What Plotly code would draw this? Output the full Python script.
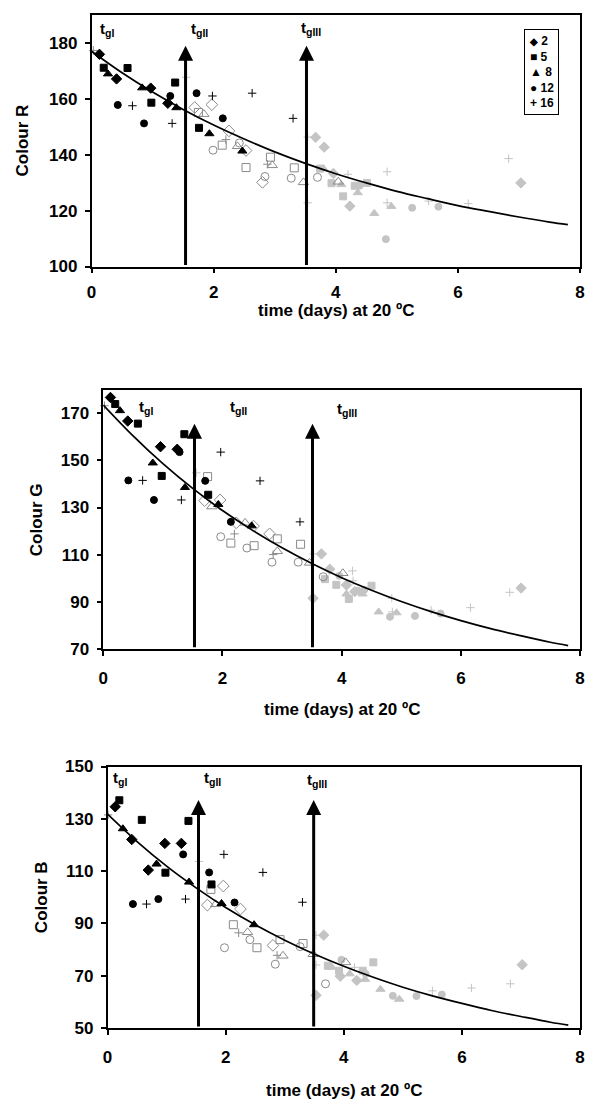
import plotly.graph_objects as go

# ---- storage temperatures (ºC) and their marker symbols ----
TEMPS = [2, 5, 8, 12, 16]
SYM_FILLED = {2: "diamond", 5: "square", 8: "triangle-up", 12: "circle", 16: "cross-thin"}
SYM_OPEN = {2: "diamond-open", 5: "square-open", 8: "triangle-up-open", 12: "circle-open", 16: "cross-thin"}

# ---- Colour R: (temperature, time at 20 ºC in days, value) ----
R_PHASE1 = [
    (2, 0.13, 175.9), (2, 0.41, 167.1), (2, 0.97, 163.8), (2, 1.25, 158.4),
    (5, 0.20, 171.1), (5, 0.59, 171.0), (5, 0.98, 158.6), (5, 1.37, 165.8), (5, 1.76, 149.6),
    (8, 0.27, 168.9), (8, 0.83, 163.9), (8, 1.39, 156.8), (8, 1.93, 147.5), (8, 2.47, 141.3),
    (12, 0.43, 157.8), (12, 0.86, 151.2), (12, 1.29, 161.0), (12, 1.72, 162.0), (12, 2.15, 153.0),
    (16, 0.67, 157.5), (16, 1.32, 151.2), (16, 1.98, 161.0), (16, 2.63, 162.0), (16, 3.30, 153.0),
]
R_PHASE2 = [
    (16, 0.03, 177.3),
    (2, 1.69, 156.9), (2, 1.97, 157.9), (2, 2.25, 148.5), (2, 2.53, 141.5), (2, 2.80, 130.1),
    (5, 1.75, 155.1), (5, 2.14, 143.4), (5, 2.53, 135.4), (5, 2.93, 139.1), (5, 3.32, 135.3),
    (8, 1.84, 154.5), (8, 2.39, 143.0), (8, 2.96, 136.2), (8, 3.47, 130.1), (8, 4.04, 130.3),
    (12, 1.99, 141.6), (12, 2.42, 144.2), (12, 2.84, 132.2), (12, 3.27, 131.6), (12, 3.70, 131.9),
    (16, 2.20, 145.4), (16, 2.88, 136.6),
]
R_PHASE3 = [
    (16, 1.55, 167.7), (16, 3.54, 146.3), (16, 3.54, 122.8),
    (2, 3.67, 146.2), (2, 3.81, 142.7), (2, 3.96, 133.3), (2, 4.23, 121.6), (2, 7.03, 129.9),
    (5, 3.74, 135.0), (5, 3.93, 129.8), (5, 4.12, 125.1), (5, 4.31, 128.9), (5, 4.51, 129.9),
    (8, 3.80, 135.0), (8, 4.09, 129.3), (8, 4.36, 126.4), (8, 4.63, 119.0), (8, 4.91, 121.5),
    (12, 4.39, 128.9), (12, 4.82, 109.8), (12, 5.25, 121.0), (12, 5.68, 121.4),
    (16, 4.20, 133.0), (16, 4.84, 133.9), (16, 4.84, 122.8), (16, 5.52, 123.4), (16, 6.17, 122.5), (16, 6.83, 138.6),
]

# ---- Colour G ----
G_PHASE1 = [
    (2, 0.12, 176.7), (2, 0.41, 166.7), (2, 0.96, 155.8), (2, 1.24, 154.7),
    (5, 0.20, 173.9), (5, 0.58, 165.6), (5, 0.98, 143.4), (5, 1.36, 161.1), (5, 1.76, 135.4),
    (8, 0.28, 171.1), (8, 0.83, 148.9), (8, 1.37, 138.5), (8, 1.93, 131.3), (8, 2.49, 122.2),
    (12, 0.42, 141.5), (12, 0.85, 133.2), (12, 1.28, 153.5), (12, 1.71, 141.3), (12, 2.14, 123.9),
    (16, 0.66, 141.5), (16, 1.31, 133.2), (16, 1.97, 153.5), (16, 2.63, 141.3), (16, 3.30, 123.9),
]
G_PHASE2 = [
    (16, 0.02, 173.2),
    (2, 1.70, 132.9), (2, 1.96, 133.2), (2, 2.23, 123.5), (2, 2.52, 122.1), (2, 2.79, 118.8),
    (5, 1.75, 143.1), (5, 2.14, 114.9), (5, 2.53, 113.8), (5, 2.92, 116.7), (5, 3.31, 114.4),
    (8, 1.82, 130.4), (8, 2.38, 123.5), (8, 2.92, 111.4), (8, 3.46, 106.5), (8, 4.02, 102.1),
    (12, 1.97, 117.6), (12, 2.41, 112.8), (12, 2.83, 106.8), (12, 3.27, 106.8), (12, 3.69, 100.6),
    (16, 2.20, 118.8), (16, 2.85, 110.0),
]
G_PHASE3 = [
    (16, 1.56, 144.7), (16, 3.53, 110.3),
    (2, 3.66, 110.3), (2, 3.80, 103.8), (2, 3.52, 91.5), (2, 4.08, 97.1), (2, 4.22, 94.3), (2, 7.01, 95.8),
    (5, 3.72, 99.6), (5, 3.91, 97.2), (5, 4.12, 91.2), (5, 4.50, 96.8),
    (8, 4.08, 93.3), (8, 4.35, 93.3), (8, 4.62, 85.7), (8, 4.92, 85.3),
    (12, 3.96, 101.0), (12, 4.27, 94.7), (12, 4.38, 95.1), (12, 4.81, 83.6), (12, 5.23, 84.0), (12, 5.66, 85.0),
    (16, 4.18, 103.1), (16, 4.19, 98.9), (16, 4.84, 91.5), (16, 4.85, 85.7), (16, 5.50, 86.4), (16, 6.16, 87.5), (16, 6.82, 94.0),
]

# ---- Colour B ----
B_PHASE1 = [
    (2, 0.13, 134.6), (2, 0.41, 122.1), (2, 0.69, 110.4), (2, 0.97, 120.6), (2, 1.25, 120.6),
    (5, 0.20, 137.1), (5, 0.58, 129.6), (5, 0.98, 109.4), (5, 1.37, 129.2), (5, 1.76, 104.9),
    (8, 0.26, 126.2), (8, 0.83, 112.7), (8, 1.38, 105.8), (8, 1.93, 97.6), (8, 2.48, 89.5),
    (12, 0.43, 97.4), (12, 0.86, 99.3), (12, 1.28, 116.4), (12, 1.72, 109.5), (12, 2.15, 98.0),
    (16, 0.66, 97.4), (16, 1.32, 99.3), (16, 1.97, 116.4), (16, 2.63, 109.5), (16, 3.30, 98.1),
]
B_PHASE2 = [
    (16, 0.01, 131.5),
    (2, 1.69, 97.0), (2, 1.96, 104.3), (2, 2.25, 95.5), (2, 2.80, 81.6),
    (5, 1.75, 103.0), (5, 2.13, 89.5), (5, 2.53, 80.7), (5, 2.92, 83.8), (5, 3.31, 82.3),
    (8, 1.83, 97.3), (8, 2.37, 86.6), (8, 2.97, 77.6), (8, 3.48, 78.2), (8, 4.03, 75.1),
    (12, 1.98, 80.7), (12, 2.41, 83.8), (12, 2.84, 74.4), (12, 3.26, 81.1), (12, 3.69, 66.9),
    (16, 2.22, 86.4), (16, 2.87, 77.8),
]
B_PHASE3 = [
    (16, 1.55, 113.7), (16, 3.53, 85.5), (16, 3.53, 74.1),
    (2, 3.66, 85.5), (2, 3.53, 62.5), (2, 3.94, 69.8), (2, 4.22, 68.2), (2, 7.02, 74.2),
    (5, 3.73, 73.8), (5, 3.92, 71.9), (5, 4.32, 71.9), (5, 4.50, 75.1),
    (8, 3.80, 73.2), (8, 4.10, 70.7), (8, 4.36, 68.6), (8, 4.62, 64.8), (8, 4.94, 61.0),
    (12, 3.96, 76.1), (12, 4.37, 70.7), (12, 4.83, 62.3), (12, 5.23, 62.2), (12, 5.66, 62.8),
    (16, 4.18, 73.2), (16, 4.87, 61.5), (16, 5.50, 64.2), (16, 6.16, 65.3), (16, 6.82, 66.9),
]

# ---- fitted model curves ----
CURVE_T = [0, 0.5, 1, 1.5, 2, 2.5, 3, 3.5, 4, 4.5, 5, 5.5, 6, 6.5, 7, 7.5, 7.8]
CURVE_R = [177.0, 169.3, 162.4, 156.2, 150.6, 145.6, 141.0, 136.9, 133.2, 129.9, 126.9, 124.3, 121.8, 119.7, 117.7, 115.9, 115.0]
CURVE_G = [173.5, 160.4, 148.6, 138.1, 128.7, 120.4, 112.9, 106.2, 100.2, 94.9, 90.1, 85.8, 82.0, 78.6, 75.6, 72.8, 71.4]
CURVE_B = [131.8, 121.3, 111.9, 103.6, 96.1, 89.5, 83.6, 78.3, 73.6, 69.4, 65.6, 62.3, 59.4, 56.7, 54.4, 52.2, 51.1]

# ---- phase limits tgII, tgIII (days at 20 ºC) ----
TG_R = [1.54, 3.52]
TG_G = [1.53, 3.51]
TG_B = [1.54, 3.49]

FONT = "Liberation Sans, Arial, sans-serif"
BLACK = "#000000"
OPEN_GREY = "#8a8a8a"
FILL_GREY = "#c4c4c4"

SIZES = {2: 8, 5: 7, 8: 8, 12: 7, 16: 6}

fig = go.Figure()


def add_points(points, phase, xa, ya):
    for temp in TEMPS:
        xs = [p[1] for p in points if p[0] == temp]
        ys = [p[2] for p in points if p[0] == temp]
        if not xs:
            continue
        if phase == 1:
            sym, col, size = SYM_FILLED[temp], BLACK, SIZES[temp]
        elif phase == 2:
            sym, col, size = SYM_OPEN[temp], OPEN_GREY, SIZES[temp] + (0 if temp == 16 else 1)
        else:
            sym, col, size = SYM_FILLED[temp], FILL_GREY, SIZES[temp]
        marker = dict(symbol=sym, size=size, color=col, line=dict(color=col, width=1))
        fig.add_trace(go.Scatter(x=xs, y=ys, mode="markers", marker=marker,
                                 xaxis=xa, yaxis=ya, showlegend=False,
                                 cliponaxis=False))


panels = [
    ("x", "y", R_PHASE1, R_PHASE2, R_PHASE3, CURVE_R),
    ("x2", "y2", G_PHASE1, G_PHASE2, G_PHASE3, CURVE_G),
    ("x3", "y3", B_PHASE1, B_PHASE2, B_PHASE3, CURVE_B),
]
for xa, ya, p1, p2, p3, curve in panels:
    add_points(p3, 3, xa, ya)
    add_points(p2, 2, xa, ya)
    add_points(p1, 1, xa, ya)
    fig.add_trace(go.Scatter(x=CURVE_T, y=curve, mode="lines",
                             line=dict(color=BLACK, width=1.7, shape="spline"),
                             xaxis=xa, yaxis=ya, showlegend=False))

W, H = 590, 1112


def px_x(p):
    return p / W


def px_y(p):
    return 1 - p / H


axis_common = dict(showline=True, linecolor=BLACK, linewidth=1.5, mirror=True,
                   ticks="outside", ticklen=5, tickwidth=1.5, tickcolor=BLACK,
                   showgrid=False, zeroline=False,
                   tickfont=dict(family=FONT, size=17, color=BLACK, weight="bold"))

# plot-area boxes in pixels: (left, right, top, bottom)
boxes = [(88, 585, 6, 262), (100, 585, 387.3, 651), (104.3, 585, 770.7, 1036.7)]
yranges = [(100, 190), (70, 180), (50, 150)]
yticks = [list(range(100, 181, 20)), list(range(70, 171, 20)), list(range(50, 151, 20))]
xstandoff = [4, 8, 8]

layout = dict(width=W, height=H, margin=dict(l=0, r=0, t=0, b=0),
              paper_bgcolor="white", plot_bgcolor="white", showlegend=False)
for i, (box, yr, yt, so) in enumerate(zip(boxes, yranges, yticks, xstandoff)):
    s = "" if i == 0 else str(i + 1)
    l, r, t, b = box
    layout["xaxis" + s] = dict(axis_common, domain=[px_x(l), px_x(r)], range=[0, 8],
                               tickvals=[0, 2, 4, 6, 8], anchor="y" + s,
                               ticklabelstandoff=so)
    layout["yaxis" + s] = dict(axis_common, domain=[px_y(b), px_y(t)], range=list(yr),
                               tickvals=yt, anchor="x" + s, ticklabelstandoff=4)
fig.update_layout(**layout)

annotations = []

# axis titles
title_font = dict(family=FONT, size=17, color=BLACK, weight="bold")
xtitle_y = [307, 713, 1100]
ytitle_x = [18, 31.5, 36.5]
ytitles = ["Colour R", "Colour G", "Colour B"]
for box, ty, tx, name in zip(boxes, xtitle_y, ytitle_x, ytitles):
    l, r, t, b = box
    annotations.append(dict(text="time (days) at 20 ºC", xref="paper", yref="paper",
                            x=px_x((l + r) / 2), y=px_y(ty), showarrow=False,
                            xanchor="center", yanchor="middle", font=title_font))
    annotations.append(dict(text=name, xref="paper", yref="paper",
                            x=px_x(tx), y=px_y((t + b) / 2), showarrow=False,
                            textangle=-90, xanchor="center", yanchor="middle",
                            font=title_font))

# phase arrows
arrow_tops = [179, 165.5, 137.2]
for i, (tg, top, yr) in enumerate(zip([TG_R, TG_G, TG_B], arrow_tops, yranges)):
    s = "" if i == 0 else str(i + 1)
    for t in tg:
        annotations.append(dict(x=t, y=top, ax=t, ay=yr[0], xref="x" + s, yref="y" + s,
                                axref="x" + s, ayref="y" + s, text="", showarrow=True,
                                arrowhead=2, arrowsize=1.0, arrowwidth=3,
                                arrowcolor=BLACK, standoff=0, startstandoff=0))

# phase labels
label_font = dict(family=FONT, size=15, color=BLACK, weight="bold")
label_pos = [
    [(0.10, 184.8), (1.60, 184.8), (3.39, 185.0)],
    [(0.56, 172.5), (2.10, 172.5), (3.88, 171.8)],
    [(0.06, 145.3), (1.60, 145.3), (3.35, 144.7)],
]
label_txt = ["t<sub>gI</sub>", "t<sub>gII</sub>", "t<sub>gIII</sub>"]
for i, row in enumerate(label_pos):
    s = "" if i == 0 else str(i + 1)
    for (lx, ly), txt in zip(row, label_txt):
        annotations.append(dict(text=txt, x=lx, y=ly, xref="x" + s, yref="y" + s,
                                showarrow=False, xanchor="left", yanchor="middle",
                                font=label_font))

# temperature key
key_glyphs = ['<span style="font-size:10px">◆</span>', "■", "▲", "●", "+"]
key_text = "<br>".join(f"{g} {t}" for g, t in zip(key_glyphs, TEMPS))
annotations.append(dict(text=key_text, xref="paper", yref="paper",
                        x=px_x(528), y=px_y(20), xanchor="left", yanchor="top",
                        align="left", showarrow=False, bgcolor="white",
                        bordercolor=BLACK, borderwidth=1, borderpad=4,
                        font=dict(family=FONT, size=12, color=BLACK, weight="bold")))

fig.update_layout(annotations=annotations)
fig.write_html("out.html")
